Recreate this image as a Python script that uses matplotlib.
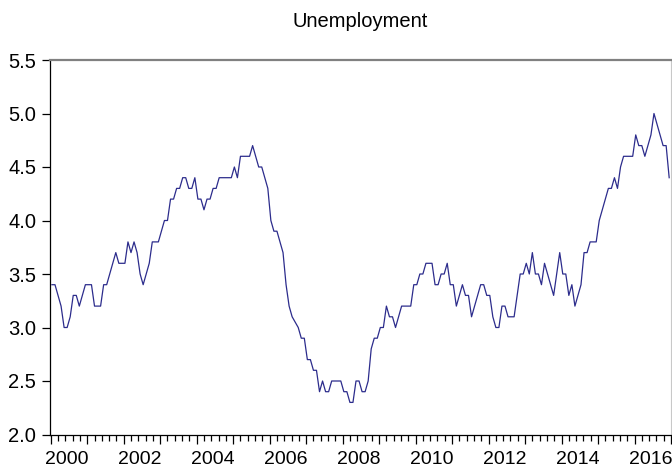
import matplotlib
matplotlib.use("Agg")
import matplotlib.pyplot as plt
import numpy as np

plt.rcParams['font.family'] = ['Liberation Sans', 'DejaVu Sans']

# monthly unemployment rate, 2000M01 - 2016M12
unemployment = [
    3.4, 3.4, 3.3, 3.2, 3.0, 3.0, 3.1, 3.3, 3.3, 3.2,
    3.3, 3.4, 3.4, 3.4, 3.2, 3.2, 3.2, 3.4, 3.4, 3.5,
    3.6, 3.7, 3.6, 3.6, 3.6, 3.8, 3.7, 3.8, 3.7, 3.5,
    3.4, 3.5, 3.6, 3.8, 3.8, 3.8, 3.9, 4.0, 4.0, 4.2,
    4.2, 4.3, 4.3, 4.4, 4.4, 4.3, 4.3, 4.4, 4.2, 4.2,
    4.1, 4.2, 4.2, 4.3, 4.3, 4.4, 4.4, 4.4, 4.4, 4.4,
    4.5, 4.4, 4.6, 4.6, 4.6, 4.6, 4.7, 4.6, 4.5, 4.5,
    4.4, 4.3, 4.0, 3.9, 3.9, 3.8, 3.7, 3.4, 3.2, 3.1,
    3.05, 3.0, 2.9, 2.9, 2.7, 2.7, 2.6, 2.6, 2.4, 2.5,
    2.4, 2.4, 2.5, 2.5, 2.5, 2.5, 2.4, 2.4, 2.3, 2.3,
    2.5, 2.5, 2.4, 2.4, 2.5, 2.8, 2.9, 2.9, 3.0, 3.0,
    3.2, 3.1, 3.1, 3.0, 3.1, 3.2, 3.2, 3.2, 3.2, 3.4,
    3.4, 3.5, 3.5, 3.6, 3.6, 3.6, 3.4, 3.4, 3.5, 3.5,
    3.6, 3.4, 3.4, 3.2, 3.3, 3.4, 3.3, 3.3, 3.1, 3.2,
    3.3, 3.4, 3.4, 3.3, 3.3, 3.1, 3.0, 3.0, 3.2, 3.2,
    3.1, 3.1, 3.1, 3.3, 3.5, 3.5, 3.6, 3.5, 3.7, 3.5,
    3.5, 3.4, 3.6, 3.5, 3.4, 3.3, 3.5, 3.7, 3.5, 3.5,
    3.3, 3.4, 3.2, 3.3, 3.4, 3.7, 3.7, 3.8, 3.8, 3.8,
    4.0, 4.1, 4.2, 4.3, 4.3, 4.4, 4.3, 4.5, 4.6, 4.6,
    4.6, 4.6, 4.8, 4.7, 4.7, 4.6, 4.7, 4.8, 5.0, 4.9,
    4.8, 4.7, 4.7, 4.4,
]
start_year = 2000
end_year = 2017
label_years = [2000, 2002, 2004, 2006, 2008, 2010, 2012, 2014, 2016]
y_ticks = [2.0, 2.5, 3.0, 3.5, 4.0, 4.5, 5.0, 5.5]

# time axis in fractional years (observation drawn near start of month)
t = start_year + (np.arange(len(unemployment)) + 0.4) / 12

fig = plt.figure(figsize=(6.72, 4.72), dpi=100)
ax = fig.add_axes([50 / 672, 1 - 434.5 / 472, 621 / 672, 374.5 / 472])

ax.plot(t, unemployment, color='#2c2c8c', linewidth=0.9)

ax.set_xlim(start_year - 0.02, end_year)
ax.set_ylim(2.0, 5.5)

# y axis
ax.set_yticks(y_ticks)
ax.set_yticklabels([f"{v:.1f}" for v in y_ticks])
ax.tick_params(axis='y', direction='out', length=6, width=0.9, pad=4, labelsize=14.5)

# x axis: year ticks + 5 sub-divisions, labels centred on even years
ax.set_xticks(np.arange(start_year, end_year + 1))
ax.set_xticklabels([])
ax.set_xticks(np.arange(start_year, end_year + 0.01, 0.2), minor=True)
ax.tick_params(axis='x', which='major', direction='out', length=6.5, width=0.9)
ax.tick_params(axis='x', which='minor', direction='out', length=4, width=0.9)

sec = ax.secondary_xaxis('bottom')
sec.set_xticks([y + 0.45 for y in label_years])
sec.set_xticklabels([str(y) for y in label_years])
sec.tick_params(length=0, pad=12, labelsize=14)
sec.spines['bottom'].set_visible(False)

ax.spines['top'].set_color('#808080')
ax.spines['top'].set_linewidth(1.6)
ax.spines['right'].set_color('#c8c8c8')
ax.spines['right'].set_linewidth(0.8)
ax.spines['left'].set_linewidth(0.9)
ax.spines['bottom'].set_linewidth(0.9)

ax.set_title("Unemployment", fontsize=14.5, pad=24)

fig.savefig("out.png", dpi=100)
